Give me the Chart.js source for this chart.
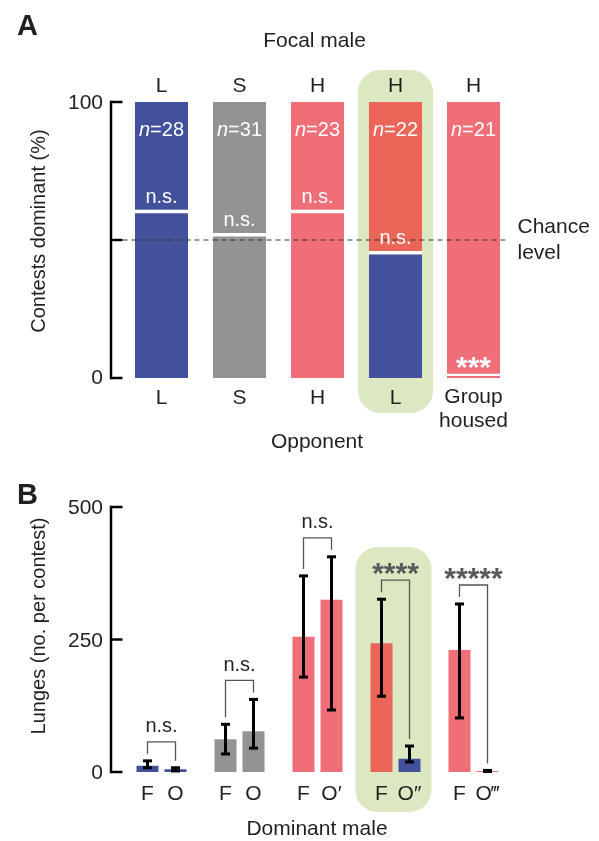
<!DOCTYPE html>
<html>
<head>
<meta charset="utf-8">
<script src="https://cdn.jsdelivr.net/npm/chart.js@4.4.1/dist/chart.umd.min.js"></script>
<style>
  html, body { margin: 0; padding: 0; background: #fff; }
  #wrap { position: relative; width: 599px; height: 841px; }
  canvas { position: absolute; left: 0; }
  #chartA { top: 0; }
  #chartB { top: 460px; }
</style>
</head>
<body>
<div id="wrap">
  <canvas id="chartA" width="599" height="460"></canvas>
  <canvas id="chartB" width="599" height="381"></canvas>
</div>
<script>
// ---- Panel A: contests dominant (%) ----
const focalLabels = ["L", "S", "H", "H", "H"];
const opponentLabels = ["L", "S", "H", "L", ["Group", "housed"]];
const contestN = [28, 31, 23, 22, 21];
const lowerPct = [61, 52.5, 61, 46, 1.5];
const upperPct = [39, 47.5, 39, 54, 98.5];
const sigA = ["n.s.", "n.s.", "n.s.", "n.s.", "***"];
const ticksA = [0, 50, 100];
const chanceLevel = 50;

// ---- Panel B: lunges per contest ----
const pairLabels = ["L vs L", "S vs S", "H vs H", "H vs L", "H vs group"];
const dominantF = ["F", "F", "F", "F", "F"];
const dominantO = ["O", "O", "O\u2032", "O\u2033", "O\u2034"];
const lungesF = [12, 62, 255, 243, 230];
const lungesO = [5, 77, 325, 25, 2];
const errF = [[8, 21], [34, 90], [179, 370], [143, 326], [102, 317]];
const errO = [[2, 8], [45, 137], [117, 406], [19, 49], [1, 3]];
const sigB = ["n.s.", "n.s.", "n.s.", "****", "*****"];
const ticksB = [0, 250, 500];

// colours
const BLUE = "#43509B";
const GRAY = "#939393";
const PINK = "#F06E78";
const RED = "#EB6558";
const GREEN = "#DCE8C1";
const INK = "#231F20";
const FONT = "'Liberation Sans', Arial, sans-serif";

const colorsLowerA = [BLUE, GRAY, PINK, BLUE, PINK];
const colorsUpperA = [BLUE, GRAY, PINK, RED, PINK];
const colorsF = [BLUE, GRAY, PINK, RED, PINK];
const colorsO = [BLUE, GRAY, PINK, BLUE, PINK];

function txt(ctx, s, x, y, font, color, align = "center", baseline = "middle") {
    ctx.save();
    ctx.font = font;
    ctx.fillStyle = color;
    ctx.textAlign = align;
    ctx.textBaseline = baseline;
    ctx.fillText(s, x, y);
    ctx.restore();
}

function vtxt(ctx, s, x, y, font, color) {
    ctx.save();
    ctx.translate(x, y);
    ctx.rotate(-Math.PI / 2);
    txt(ctx, s, 0, 0, font, color);
    ctx.restore();
}

function stars(ctx, s, x, yCenter, color) {
    // asterisks sit high in the glyph box, so place by the alphabetic baseline
    txt(ctx, s, x, yCenter + 15, "bold 30px " + FONT, color, "center", "alphabetic");
}

function highlight(ctx, x, y, w, h) {
    ctx.save();
    ctx.fillStyle = GREEN;
    ctx.beginPath();
    ctx.roundRect(x, y, w, h, 22);
    ctx.fill();
    ctx.restore();
}

function drawAxis(ctx, yScale, axisX, tickEnd, ticks) {
    ctx.save();
    ctx.strokeStyle = "#000";
    ctx.lineWidth = 2.5;
    ctx.beginPath();
    ctx.moveTo(axisX, yScale.getPixelForValue(ticks[ticks.length - 1]) - 1.25);
    ctx.lineTo(axisX, yScale.getPixelForValue(ticks[0]) + 1.25);
    ctx.stroke();
    ticks.forEach(t => {
        const py = yScale.getPixelForValue(t);
        ctx.beginPath();
        ctx.moveTo(axisX, py);
        ctx.lineTo(tickEnd, py);
        ctx.stroke();
    });
    ctx.restore();
}

const panelA = {
    id: "panelA",
    beforeDatasetsDraw(chart) {
        const { ctx, scales: { x, y } } = chart;
        const cx = x.getPixelForValue(3);
        const top = y.getPixelForValue(100) - 32;
        highlight(ctx, cx - 37.5, top, 75, y.getPixelForValue(0) + 35 - top);
    },
    afterDatasetsDraw(chart) {
        const { ctx, chartArea, scales: { x, y } } = chart;
        const axisX = chartArea.left - 11.5;

        // chance level
        const cy = y.getPixelForValue(chanceLevel);
        ctx.save();
        ctx.strokeStyle = "#333";
        ctx.lineWidth = 1;
        ctx.setLineDash([5, 4]);
        ctx.beginPath();
        ctx.moveTo(chartArea.left, cy);
        ctx.lineTo(chartArea.right - 3, cy);
        ctx.stroke();
        ctx.restore();
        txt(ctx, "Chance", chartArea.right + 5, cy - 13, "21px " + FONT, INK, "left");
        txt(ctx, "level", chartArea.right + 5, cy + 13, "21px " + FONT, INK, "left");

        drawAxis(ctx, y, axisX, chartArea.left, ticksA);
        txt(ctx, "100", axisX - 8, y.getPixelForValue(100) + 1, "21px " + FONT, INK, "right");
        txt(ctx, "0", axisX - 8, y.getPixelForValue(0), "21px " + FONT, INK, "right");

        const upper = chart.getDatasetMeta(1).data;
        const lower = chart.getDatasetMeta(0).data;
        upper.forEach((bar, i) => {
            // n = count, italic n
            ctx.save();
            ctx.font = "italic 20px " + FONT;
            const w1 = ctx.measureText("n").width;
            ctx.font = "20px " + FONT;
            const rest = "=" + contestN[i];
            const w2 = ctx.measureText(rest).width;
            ctx.restore();
            const sx = bar.x - (w1 + w2) / 2;
            const ny = y.getPixelForValue(100) + 28;
            txt(ctx, "n", sx, ny, "italic 20px " + FONT, "#fff", "left");
            txt(ctx, rest, sx + w1, ny, "20px " + FONT, "#fff", "left");

            const boundary = lower[i].y;
            if (sigA[i].startsWith("*")) {
                stars(ctx, sigA[i], bar.x, boundary - 12, "#fff");
            } else {
                txt(ctx, sigA[i], bar.x, boundary - 12.5, "20px " + FONT, "#fff");
            }

            txt(ctx, focalLabels[i], bar.x, 86, "21px " + FONT, INK);
            const opp = [].concat(opponentLabels[i]);
            opp.forEach((line, k) => {
                txt(ctx, line, bar.x, (opp.length > 1 ? 397 : 398.5) + 24 * k, "21px " + FONT, INK);
            });
        });

        const mid = (chartArea.left + chartArea.right) / 2;
        txt(ctx, "Focal male", mid - 3, 41, "21px " + FONT, INK);
        txt(ctx, "Opponent", mid - 0.5, 442, "21px " + FONT, INK);
        vtxt(ctx, "Contests dominant (%)", 39, (chartArea.top + chartArea.bottom) / 2 - 9, "20px " + FONT, INK);
        txt(ctx, "A", 17, 27, "bold 29px " + FONT, INK, "left");
    }
};

const panelB = {
    id: "panelB",
    beforeDatasetsDraw(chart) {
        const { ctx, scales: { x, y } } = chart;
        const cx = x.getPixelForValue(3);
        const top = y.getPixelForValue(500) + 40;
        highlight(ctx, cx - 40, top, 76, y.getPixelForValue(0) + 40 - top);
    },
    afterDatasetsDraw(chart) {
        const { ctx, chartArea, scales: { x, y } } = chart;
        const axisX = chartArea.left - 11.5;
        drawAxis(ctx, y, axisX, chartArea.left, ticksB);
        ticksB.forEach(t => {
            txt(ctx, String(t), axisX - 8, y.getPixelForValue(t) + 1.5, "21px " + FONT, INK, "right");
        });

        const metaF = chart.getDatasetMeta(0).data;
        const metaO = chart.getDatasetMeta(1).data;

        // error bars
        ctx.save();
        ctx.strokeStyle = "#000";
        ctx.fillStyle = "#000";
        ctx.lineWidth = 3;
        [[metaF, errF], [metaO, errO]].forEach(([meta, err]) => {
            meta.forEach((bar, i) => {
                const lo = y.getPixelForValue(err[i][0]);
                const hi = y.getPixelForValue(err[i][1]);
                ctx.beginPath();
                ctx.moveTo(bar.x, lo);
                ctx.lineTo(bar.x, hi);
                ctx.stroke();
                ctx.fillRect(bar.x - 4.5, hi - 1.5, 9, 3);
                ctx.fillRect(bar.x - 4.5, lo - 1.5, 9, 3);
            });
        });
        ctx.restore();

        // brackets and significance
        metaF.forEach((bf, i) => {
            const bo = metaO[i];
            const fTop = y.getPixelForValue(errF[i][1]);
            const oTop = y.getPixelForValue(errO[i][1]);
            const top = Math.min(fTop, oTop) - 19;
            ctx.save();
            ctx.strokeStyle = "#555";
            ctx.lineWidth = 1.3;
            ctx.beginPath();
            ctx.moveTo(bf.x, fTop - 7);
            ctx.lineTo(bf.x, top);
            ctx.lineTo(bo.x, top);
            ctx.lineTo(bo.x, oTop - 7);
            ctx.stroke();
            ctx.restore();
            const mx = (bf.x + bo.x) / 2;
            if (sigB[i].startsWith("*")) {
                stars(ctx, sigB[i], mx, top - 12, "#58595B");
            } else {
                txt(ctx, sigB[i], mx, top - 15, "20px " + FONT, INK);
            }
            txt(ctx, dominantF[i], bf.x, 334, "21px " + FONT, INK);
            txt(ctx, dominantO[i], bo.x, 334, "21px " + FONT, INK);
        });

        const mid = (chartArea.left + chartArea.right) / 2;
        txt(ctx, "Dominant male", mid - 0.5, 369, "21px " + FONT, INK);
        vtxt(ctx, "Lunges (no. per contest)", 39, (chartArea.top + chartArea.bottom) / 2 - 13.5, "20px " + FONT, INK);
        txt(ctx, "B", 17, 36, "bold 29px " + FONT, INK, "left");
    }
};

Chart.defaults.font.family = FONT;

new Chart(document.getElementById("chartA"), {
    type: "bar",
    data: {
        labels: focalLabels,
        datasets: [
            {
                label: "lower",
                data: lowerPct,
                backgroundColor: colorsLowerA,
                borderColor: "#fff",
                borderWidth: { top: 3.5, left: 0, right: 0, bottom: 0 },
                borderSkipped: false
            },
            {
                label: "upper",
                data: upperPct,
                backgroundColor: colorsUpperA,
                borderWidth: 0
            }
        ]
    },
    options: {
        responsive: false,
        devicePixelRatio: 1,
        animation: false,
        layout: { padding: { left: 122.5, right: 86.5, top: 102, bottom: 82 } },
        datasets: { bar: { categoryPercentage: 1, barPercentage: 0.68 } },
        scales: {
            x: { stacked: true, display: false },
            y: { stacked: true, display: false, min: 0, max: 100 }
        },
        plugins: { legend: { display: false }, tooltip: { enabled: false } }
    },
    plugins: [panelA]
});

new Chart(document.getElementById("chartB"), {
    type: "bar",
    data: {
        labels: pairLabels,
        datasets: [
            { label: "F", data: lungesF, backgroundColor: colorsF, borderWidth: 0 },
            { label: "O", data: lungesO, backgroundColor: colorsO, borderWidth: 0 }
        ]
    },
    options: {
        responsive: false,
        devicePixelRatio: 1,
        animation: false,
        layout: { padding: { left: 122.5, right: 86.5, top: 47, bottom: 69 } },
        datasets: { bar: { categoryPercentage: 0.718, barPercentage: 0.786 } },
        scales: {
            x: { display: false },
            y: { display: false, min: 0, max: 500 }
        },
        plugins: { legend: { display: false }, tooltip: { enabled: false } }
    },
    plugins: [panelB]
});
</script>
</body>
</html>
